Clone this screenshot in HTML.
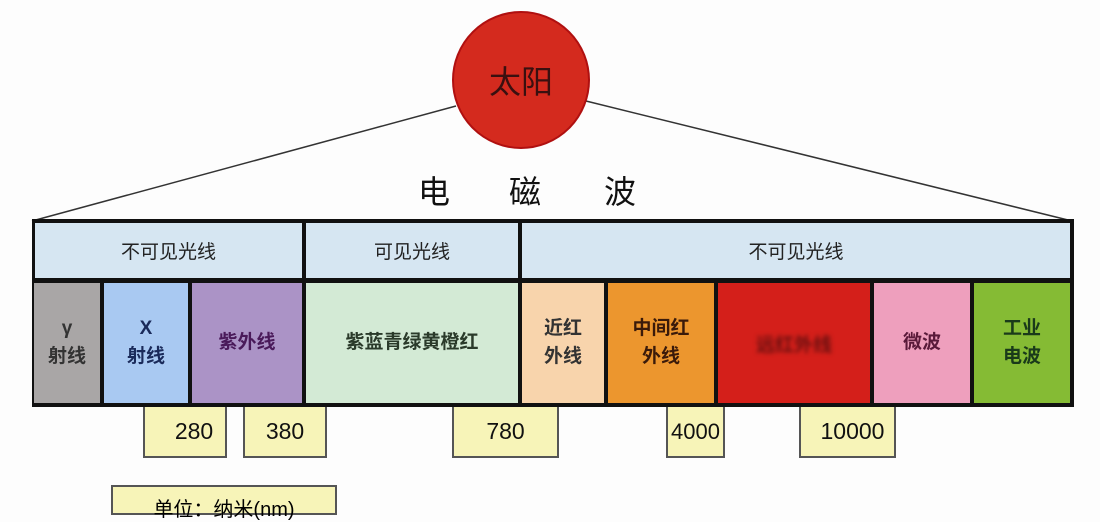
<!DOCTYPE html>
<html><head><meta charset="utf-8"><style>
body{margin:0;width:1100px;height:504px;background:#fdfdfd;position:relative;overflow:hidden;font-family:"Liberation Sans","Noto Sans CJK SC",sans-serif;}
.a{position:absolute;box-sizing:border-box;display:flex;align-items:center;justify-content:center;text-align:center;}
.h{background:#d6e6f2;font-size:19px;color:#222;}
.c{font-size:19px;line-height:28px;color:#333;font-weight:bold;}
.n{background:#f7f4b8;border:2px solid #555;border-top:none;font-size:23px;color:#111;}
</style></head><body>
<svg width="1100" height="504" style="position:absolute;left:0;top:0">
<line x1="32" y1="221" x2="456" y2="106" stroke="#333" stroke-width="1.5"/>
<line x1="586" y1="101" x2="1072" y2="221" stroke="#333" stroke-width="1.5"/>
<circle cx="521" cy="80" r="68" fill="#d42a1e" stroke="#b01010" stroke-width="2"/>
<rect x="32" y="219" width="1042" height="188" fill="#111"/>
</svg>
<div class="a" style="left:450px;top:55px;width:142px;height:50px;font-size:32px;color:#3a1010">太阳</div>
<div class="a" style="left:410px;top:168px;width:48px;height:44px;font-size:32px;color:#111">电</div>
<div class="a" style="left:501px;top:168px;width:48px;height:44px;font-size:32px;color:#111">磁</div>
<div class="a" style="left:596px;top:168px;width:48px;height:44px;font-size:32px;color:#111">波</div>
<div class="a h" style="left:35px;top:223px;width:267px;height:55px">不可见光线</div>
<div class="a h" style="left:306px;top:223px;width:212px;height:55px">可见光线</div>
<div class="a h" style="left:522px;top:223px;width:548px;height:55px">不可见光线</div>
<div class="a c" style="left:34px;top:283px;width:66px;height:120px;background:#a9a6a6">γ<br>射线</div>
<div class="a c" style="left:104px;top:283px;width:84px;height:120px;background:#a9c9f2;color:#1a2a5a">X<br>射线</div>
<div class="a c" style="left:192px;top:283px;width:110px;height:120px;background:#ab93c6;color:#4a1a5a">紫外线</div>
<div class="a c" style="left:306px;top:283px;width:212px;height:120px;background:#d3ead5;color:#2a3a2a">紫蓝青绿黄橙红</div>
<div class="a c" style="left:522px;top:283px;width:82px;height:120px;background:#f8d4ac">近红<br>外线</div>
<div class="a c" style="left:608px;top:283px;width:106px;height:120px;background:#ec962e;color:#3a1a0a">中间红<br>外线</div>
<div class="a" style="left:718px;top:283px;width:152px;height:120px;background:#d41f1a"><span style="color:#6a1010;font-size:19px;font-weight:bold;filter:blur(2px)">远红外线</span></div>
<div class="a c" style="left:874px;top:283px;width:96px;height:120px;background:#ee9fbd;color:#5a1a3a">微波</div>
<div class="a c" style="left:974px;top:283px;width:96px;height:120px;background:#85bb34;color:#1a3a1a">工业<br>电波</div>
<div class="a n" style="left:143px;top:407px;width:84px;height:51px;padding-left:18px">280</div>
<div class="a n" style="left:243px;top:407px;width:84px;height:51px">380</div>
<div class="a n" style="left:452px;top:407px;width:107px;height:51px">780</div>
<div class="a n" style="left:666px;top:407px;width:59px;height:51px;font-size:22px">4000</div>
<div class="a n" style="left:799px;top:407px;width:97px;height:51px;padding-left:10px">10000</div>
<div class="a" style="left:111px;top:485px;width:226px;height:30px;background:#f7f4b8;border:2px solid #555;font-size:20px;align-items:flex-start;padding-top:6px">单位：纳米(nm)</div>
</body></html>
